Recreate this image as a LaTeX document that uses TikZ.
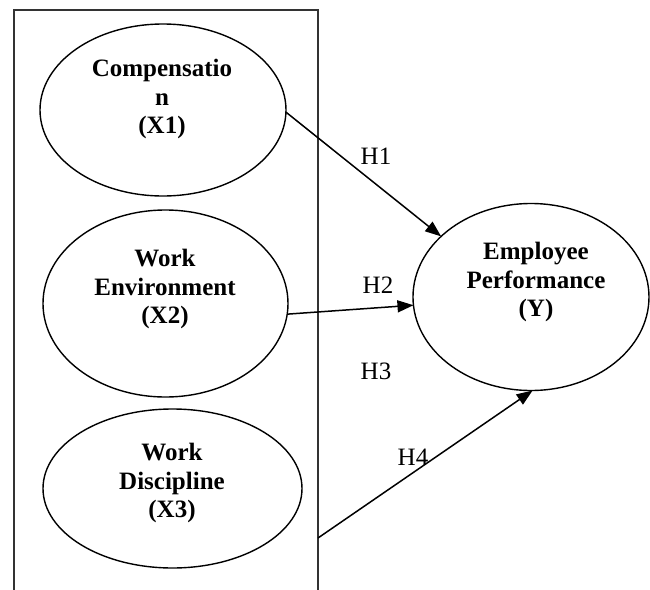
\documentclass[tikz,border=0pt]{standalone}
\usepackage{fontspec}
\setmainfont{Liberation Serif}
\usetikzlibrary{arrows.meta,shapes.geometric}

\begin{document}
\begin{tikzpicture}[x=0.5pt,y=-0.5pt,
    latent/.style={draw,ellipse,line width=0.7pt,inner sep=0pt,outer sep=0pt},
    varname/.style={font=\fontsize{12.5}{14.2}\selectfont\bfseries,align=center,inner sep=0pt},
    hyp/.style={font=\fontsize{12.5}{14.2}\selectfont,inner sep=0pt},
    path/.style={-{Triangle[length=8pt,width=6pt]},line width=0.75pt}]
    \useasboundingbox (0,0) rectangle (650,590);
    % Draw the frame round the independent variables
    \draw [line width=1pt,black!80] (14,590) |- (318,10) -- (318,590);
    % Draw the latent variables
    \node [latent,minimum width=123pt,minimum height=86pt] (x1) at (163,110) {};
    \node [latent,minimum width=122.5pt,minimum height=93.5pt] (x2) at (165.5,303.5) {};
    \node [latent,minimum width=129.5pt,minimum height=79.5pt] (x3) at (172.5,488.5) {};
    \node [latent,minimum width=118pt,minimum height=93.5pt] (y) at (531,297) {};
    % Names of the variables, set a little above the centres
    \node [varname] (x1name) at (162,99) {Compensatio\\n\\(X1)};
    \node [varname] (x2name) at (165,289) {Work\\Environment\\(X2)};
    \node [varname] (x3name) at (172,483) {Work\\Discipline\\(X3)};
    \node [varname] (yname) at (536,282) {Employee\\Performance\\(Y)};
    % Draw the hypothesised paths
    \coordinate (h4start) at (318,538);
    \draw [path] (x1.-1) -- (y.146);
    \draw [path] (x2.-5) -- (y.184);
    \draw [path] (h4start) -- (y.271);
    % Hypothesis labels
    \node [hyp] (h1) at (376,156) {H1};
    \node [hyp] (h2) at (378,285) {H2};
    \node [hyp] (h3) at (376,371) {H3};
    \node [hyp] (h4) at (413,457) {H4};
\end{tikzpicture}
\end{document}
